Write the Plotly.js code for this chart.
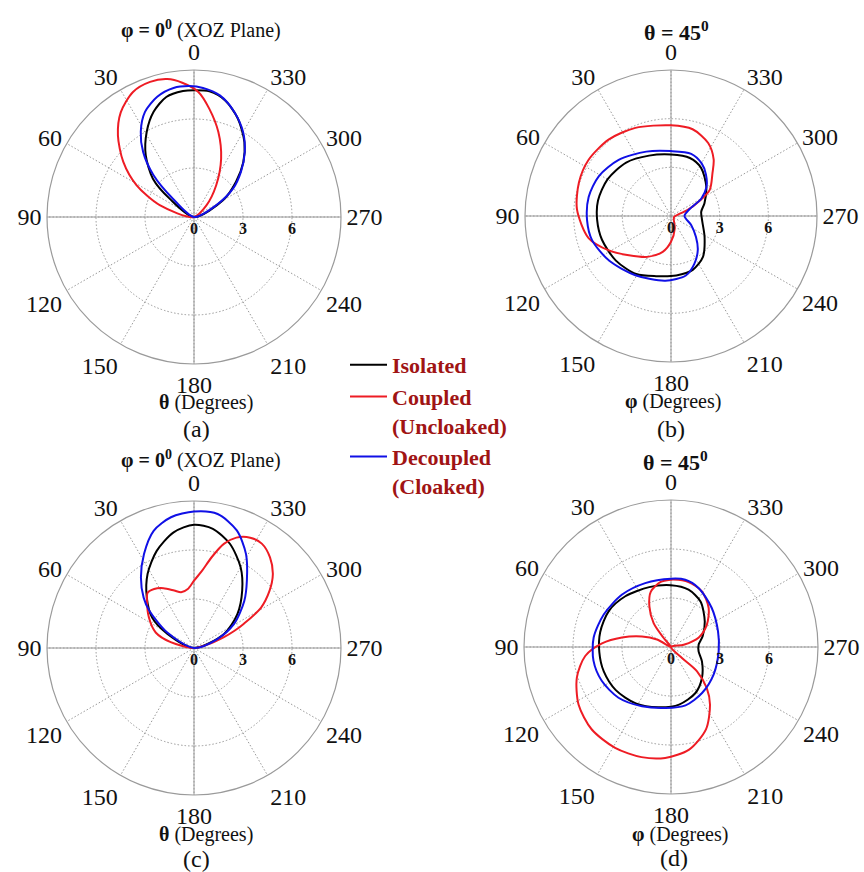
<!DOCTYPE html>
<html>
<head>
<meta charset="utf-8">
<script src="https://cdn.plot.ly/plotly-3.0.1.min.js"></script>
<style>html,body{margin:0;padding:0;background:#fff;}#chart{width:864px;height:872px;}</style>
</head>
<body>
<div id="chart"></div>
<script>
// ---------- data (theta in degrees, r in chart units) ----------
const seriesNames = ['Isolated', 'Coupled<br>(Uncloaked)', 'Decoupled<br>(Cloaked)'];

// (a) phi = 0 plane
const aIsoTheta = [60, 53, 47, 38, 29, 21, 13, 5, 0, 353, 345, 336, 326, 318, 310, 300, 295];
const aIsoR     = [0, 1.87, 3.44, 4.80, 5.97, 6.90, 7.54, 7.74, 7.76, 7.75, 7.39, 6.60, 5.52, 4.51, 3.36, 2.05, 0];
const aCplTheta = [72, 71, 61, 52, 43, 35, 26, 18, 11, 5, 358, 352, 344, 335, 325, 313, 300];
const aCplR     = [0, 2.22, 4.03, 5.50, 6.83, 7.82, 8.52, 8.70, 8.60, 8.25, 7.66, 6.70, 5.41, 3.93, 2.37, 1.04, 0];
const aDecTheta = [50, 49, 44, 38, 32, 25, 17, 9, 2, 356, 348, 339, 330, 322, 314, 306, 298, 295];
const aDecR     = [0, 1.71, 3.58, 5.06, 6.15, 7.10, 7.70, 8.00, 8.02, 7.92, 7.61, 6.89, 6.01, 5.05, 4.00, 2.95, 1.54, 0];

// (b) theta = 45
const bIsoTheta = [0, 20, 40, 60, 78, 93, 109, 129, 149, 166, 185, 202, 218, 238, 260, 278, 291, 310, 328, 342, 360];
const bIsoR     = [3.79, 3.96, 4.30, 4.52, 4.60, 4.56, 4.50, 4.37, 4.17, 3.82, 3.68, 3.58, 3.20, 2.44, 1.96, 1.88, 2.21, 2.84, 3.50, 3.76, 3.79];
const bCplTheta = [0, 22, 39, 56, 70, 86, 105, 119, 133, 150, 167, 180, 197, 219, 255, 284, 290, 298, 304, 316, 323, 333, 346, 360];
const bCplR     = [5.59, 5.86, 6.08, 6.15, 6.04, 5.81, 5.26, 4.38, 3.55, 2.91, 2.27, 1.59, 0.80, 0.27, 0.20, 0.53, 1.10, 2.00, 2.88, 3.68, 4.37, 5.05, 5.51, 5.59];
const bDecTheta = [0, 21, 43, 61, 77, 93, 107, 126, 149, 175, 194, 206, 218, 230, 246, 270, 290, 300, 309, 320, 330, 342, 360];
const bDecR     = [4.00, 4.25, 4.73, 5.08, 5.21, 5.18, 5.09, 4.70, 4.26, 4.00, 3.78, 3.28, 2.68, 2.01, 1.36, 0.83, 1.21, 2.16, 2.81, 3.35, 3.76, 4.03, 4.00];

// (c) phi = 0 plane
const cIsoTheta = [63, 62, 54, 43, 32, 21, 10, 0, 351, 341, 330, 320, 308, 295, 293];
const cIsoR     = [0, 1.84, 3.17, 4.24, 5.36, 6.37, 7.19, 7.55, 7.39, 6.75, 5.71, 4.59, 3.37, 2.03, 0];
const cCplTheta = [78, 76, 68, 56, 45, 40, 34, 27, 19, 13, 6, 0, 354, 349, 344, 339, 333, 327, 320, 313, 307, 301, 296, 293, 290, 284, 280];
const cCplR     = [0, 1.47, 2.53, 3.33, 4.07, 4.42, 4.36, 4.11, 3.72, 3.50, 3.63, 4.12, 4.76, 5.66, 6.63, 7.24, 7.58, 7.62, 7.24, 6.60, 5.78, 4.78, 3.40, 2.67, 1.95, 0.84, 0];
const cDecTheta = [62, 60, 50, 45, 37, 28, 19, 10, 0, 350, 340, 331, 322, 313, 301, 291, 289];
const cDecR     = [0, 1.89, 3.58, 4.36, 5.40, 6.52, 7.59, 8.13, 8.35, 8.33, 7.66, 6.57, 5.26, 4.21, 2.86, 1.53, 0];

// (d) theta = 45
const dIsoTheta = [0, 20, 42, 60, 78, 94, 110, 128, 148, 168, 188, 208, 225, 245, 261, 275, 289, 307, 327, 343, 360];
const dIsoR     = [3.78, 3.90, 4.18, 4.40, 4.43, 4.40, 4.38, 4.29, 4.07, 3.77, 3.56, 3.19, 2.68, 2.09, 1.71, 1.70, 2.05, 2.59, 3.32, 3.67, 3.78];
const dCplTheta = [0, 9, 20, 28, 36, 39, 45, 62, 70, 79, 87, 96, 108, 122, 136, 151, 165, 177, 190, 203, 214, 221, 227, 225, 250, 280, 289, 302, 316, 331, 345, 358, 360];
const dCplR     = [4.12, 4.03, 3.61, 2.82, 1.81, 0.71, 0, 0.97, 1.89, 3.06, 4.23, 5.28, 6.06, 6.67, 7.00, 7.06, 6.98, 6.80, 6.38, 5.48, 4.27, 3.34, 2.18, 0.95, 0, 0.79, 1.80, 2.59, 3.32, 3.90, 4.12, 4.13, 4.12];
const dDecTheta = [0, 22, 43, 64, 83, 100, 116, 134, 154, 175, 194, 214, 237, 265, 288, 314, 335, 348, 360];
const dDecR     = [4.18, 4.22, 4.39, 4.57, 4.77, 4.82, 4.72, 4.47, 4.04, 3.75, 3.68, 3.40, 3.11, 2.93, 3.03, 3.46, 3.99, 4.21, 4.18];

// ticks
const angTicks  = [0, 30, 60, 90, 120, 150, 180, 210, 240, 270, 300, 330];
const angLabels = ['0', '30', '60', '90', '120', '150', '180', '210', '240', '270', '300', '330'];
const radTicks  = [0, 3, 6];
const radLabels = ['0', '3', '6'];
const radRange  = [0, 9];

const topTitles = ['<b>φ = 0<sup>0</sup></b> (XOZ Plane)', '<b>θ = 45<sup>0</sup></b>', '<b>φ = 0<sup>0</sup></b> (XOZ Plane)', '<b>θ = 45<sup>0</sup></b>'];
const bottomTitles = ['<b>θ</b> (Degrees)', '<b>φ</b> (Degrees)', '<b>θ</b> (Degrees)', '<b>φ</b> (Degrees)'];
const panelLetters = ['(a)', '(b)', '(c)', '(d)'];

// ---------- build ----------
const colors = ['#000000', '#ee1c24', '#1010e6'];
const panels = [
  [[aIsoTheta, aIsoR], [aCplTheta, aCplR], [aDecTheta, aDecR]],
  [[bIsoTheta, bIsoR], [bCplTheta, bCplR], [bDecTheta, bDecR]],
  [[cIsoTheta, cIsoR], [cCplTheta, cCplR], [cDecTheta, cDecR]],
  [[dIsoTheta, dIsoR], [dCplTheta, dCplR], [dDecTheta, dDecR]]
];
const W = 864, H = 872;
const geo = [
  {cx: 194, cy: 217, R: 147},
  {cx: 671, cy: 216, R: 146},
  {cx: 194, cy: 648, R: 147},
  {cx: 671, cy: 647, R: 147}
];
const serif = 'Liberation Serif, Times New Roman, serif';
const dotted = '1.5px,2px';

const traces = [];
const layout = {
  width: W, height: H,
  margin: {l: 0, r: 0, t: 0, b: 0},
  paper_bgcolor: '#ffffff',
  showlegend: true,
  legend: {
    x: 345 / W, y: 1 - 344 / H, xanchor: 'left', yanchor: 'top',
    bgcolor: 'rgba(0,0,0,0)', valign: 'top', itemwidth: 37,
    font: {family: serif, size: 22, color: '#a01414', weight: 'bold'},
    tracegroupgap: 0
  },
  annotations: []
};

geo.forEach((g, i) => {
  const dom = {
    x: [(g.cx - g.R) / W, (g.cx + g.R) / W],
    y: [1 - (g.cy + g.R) / H, 1 - (g.cy - g.R) / H]
  };
  const under = 'polar' + (i === 0 ? '' : (i + 1));
  const over = 'polar' + (i + 5);
  layout[under] = {
    domain: dom,
    bgcolor: '#ffffff',
    angularaxis: {
      rotation: 90, direction: 'counterclockwise',
      tickmode: 'array', tickvals: [0, 90, 180, 270],
      showticklabels: false, ticks: '', ticklen: 0,
      showgrid: true, gridcolor: '#9a9a9a', gridwidth: 1,
      showline: false
    },
    radialaxis: {
      range: radRange, showgrid: false, showticklabels: false, ticks: '', showline: false
    }
  };
  traces.push({type: 'scatterpolar', subplot: under, r: [], theta: [], mode: 'lines', showlegend: false, hoverinfo: 'skip'});

  layout[over] = {
    domain: dom,
    bgcolor: 'rgba(0,0,0,0)',
    angularaxis: {
      rotation: 90, direction: 'counterclockwise',
      tickmode: 'array', tickvals: angTicks, ticktext: angLabels,
      tickfont: {family: serif, size: 24, color: '#111'},
      ticks: '', ticklen: 0,
      showgrid: true, gridcolor: '#999999', gridwidth: 1, griddash: dotted,
      showline: true, linecolor: '#9a9a9a', linewidth: 1.2
    },
    radialaxis: {
      range: radRange, angle: 0, side: 'clockwise', tickangle: 0,
      tickmode: 'array', tickvals: radTicks, ticktext: radLabels,
      tickfont: {family: serif, size: 16, color: '#111', weight: 'bold'},
      ticks: '', showline: false,
      showgrid: true, gridcolor: '#999999', gridwidth: 1, griddash: dotted
    }
  };
  panels[i].forEach((s, k) => {
    traces.push({
      type: 'scatterpolar', subplot: over,
      theta: s[0], r: s[1], mode: 'lines',
      line: {color: colors[k], width: 2, shape: 'spline', smoothing: 0.8},
      name: seriesNames[k], showlegend: i === 0, hoverinfo: 'skip'
    });
  });
});

const titlePos = [[201, 30], [676, 31], [201, 460], [675, 461]];
const bottomPos = [[206, 402], [673, 401], [206, 834], [680, 834]];
const letterPos = [[196, 429], [671, 429], [196, 859], [674, 858]];
for (let i = 0; i < 4; i++) {
  layout.annotations.push({
    xref: 'paper', yref: 'paper', x: titlePos[i][0] / W, y: 1 - titlePos[i][1] / H,
    xanchor: 'center', yanchor: 'middle', showarrow: false,
    text: topTitles[i], font: {family: serif, size: i % 2 ? 22 : 20, color: '#111'}
  });
  layout.annotations.push({
    xref: 'paper', yref: 'paper', x: bottomPos[i][0] / W, y: 1 - bottomPos[i][1] / H,
    xanchor: 'center', yanchor: 'middle', showarrow: false,
    text: bottomTitles[i], font: {family: serif, size: 20, color: '#111'}
  });
  layout.annotations.push({
    xref: 'paper', yref: 'paper', x: letterPos[i][0] / W, y: 1 - letterPos[i][1] / H,
    xanchor: 'center', yanchor: 'middle', showarrow: false,
    text: panelLetters[i], font: {family: serif, size: 24, color: '#111'}
  });
}

Plotly.newPlot('chart', traces, layout, {displayModeBar: false, staticPlot: true});
</script>
</body>
</html>
